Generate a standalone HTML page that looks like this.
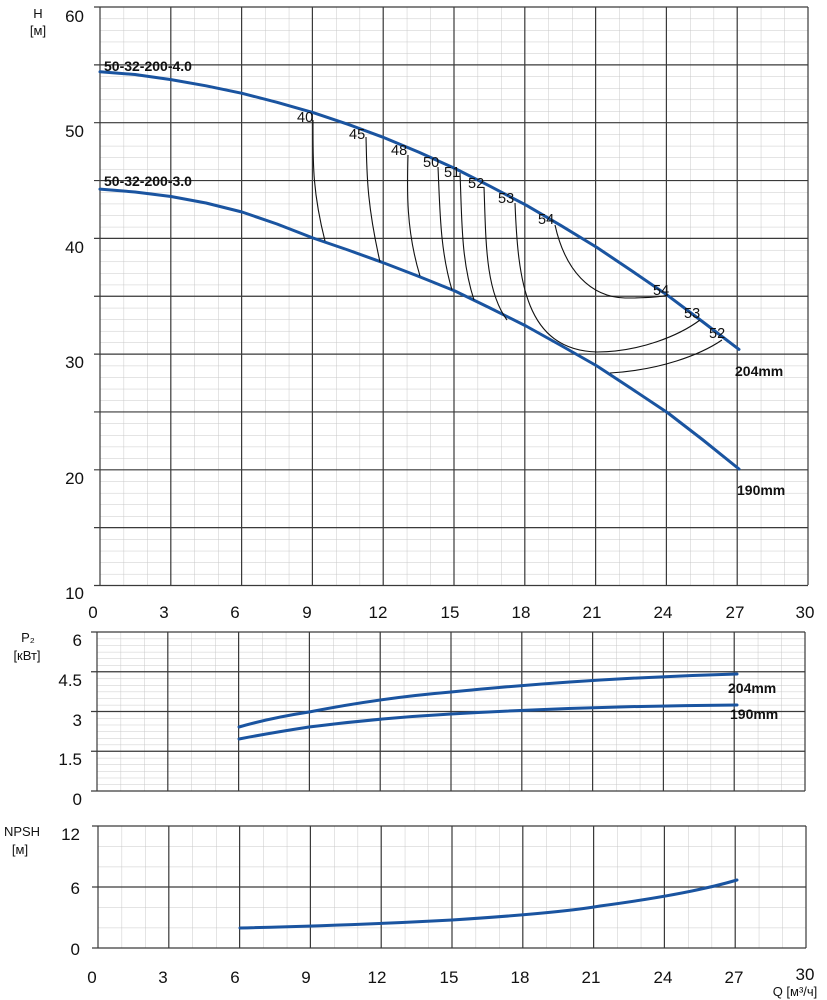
<!DOCTYPE html>
<html><head><meta charset="utf-8"><style>
html,body{margin:0;padding:0;background:#fff;}
svg{display:block;font-family:"Liberation Sans",sans-serif;}
</style></head><body>
<svg width="827" height="1000" viewBox="0 0 827 1000" xmlns="http://www.w3.org/2000/svg">
<defs>
<pattern id="pm" x="100" y="7" width="23.6" height="11.57" patternUnits="userSpaceOnUse"><path d="M0 0V11.57M0 0H23.6" stroke="#c8c8c8" stroke-width="1" fill="none"/></pattern>
<pattern id="pp" x="97" y="632" width="23.6" height="6.625" patternUnits="userSpaceOnUse"><path d="M0 0V6.625M0 0H23.6" stroke="#c8c8c8" stroke-width="1" fill="none"/></pattern>
<pattern id="pn" x="98" y="826" width="23.6" height="20.33" patternUnits="userSpaceOnUse"><path d="M0 0V20.33M0 0H23.6" stroke="#c8c8c8" stroke-width="1" fill="none"/></pattern>
</defs>
<rect x="100" y="7" width="708" height="578" fill="url(#pm)"/>
<rect x="97" y="632" width="708" height="159" fill="url(#pp)"/>
<rect x="98" y="826" width="708" height="122" fill="url(#pn)"/>
<g stroke="#3a3a3a" stroke-width="1.2" fill="none">
<path d="M100 7V585M170.8 7V585M241.6 7V585M312.4 7V585M383.2 7V585M454 7V585M524.8 7V585M595.6 7V585M666.4 7V585M737.2 7V585M808 7V585"/>
<path d="M94 7H808M94 64.85H808M94 122.7H808M94 180.55H808M94 238.4H808M94 296.25H808M94 354.1H808M94 411.95H808M94 469.8H808M94 527.65H808M94 585.5H808"/>
<path d="M97 632V791M167.8 632V791M238.6 632V791M309.4 632V791M380.2 632V791M451 632V791M521.8 632V791M592.6 632V791M663.4 632V791M734.2 632V791M805 632V791"/>
<path d="M91 632H805M91 671.75H805M91 711.5H805M91 751.25H805M91 791H805"/>
<path d="M98 826V948M168.8 826V948M239.6 826V948M310.4 826V948M381.2 826V948M452 826V948M522.8 826V948M593.6 826V948M664.4 826V948M735.2 826V948M806 826V948"/>
<path d="M92 826H806M92 887H806M92 948H806"/>
</g>
<g fill="none" stroke="#1a54a0" stroke-width="3" stroke-linejoin="round" stroke-linecap="round">
<path d="M100 71.8L135 74.5L171 79.6L206 85.8L242 93.3L277 102.3L313 112.6L348 124.3L384 137.6L419 152.3L455 168.5L490 186.2L526 205.1L561 225.6L597 247.5L632 271L668 295.7L703 322L739 349.4"/>
<path d="M100 189.1L135 192L171 196.5L206 203L242 212L277 224L313 238L348 250L384 263L419 276.5L455 291L490 308L526 326L561 345.5L597 366L632 389L668 413L703 440L739 469"/>
<path d="M239 727Q270 718 309 712Q380 698 451 692Q592 678 737 674"/>
<path d="M239 739Q270 733 309 727Q380 718 451 714Q592 706 737 705"/>
<path d="M240 928Q360 925 452 920Q560 913 600 906Q690 894 737 880"/>
</g>
<g fill="none" stroke="#111" stroke-width="1.1">
<path d="M313 120C313 160 312 190 325 241"/>
<path d="M366 137C367 170 366 200 380 262"/>
<path d="M408 155C407 190 406 230 420 276"/>
<path d="M438 167C440 210 440 250 452 290"/>
<path d="M460 173C462 220 461 260 474 300"/>
<path d="M484 187C486 240 485 290 507 320"/>
<path d="M515 203C518 280 525 350 597 352C640 352 680 335 700 320"/>
<path d="M555 225C565 270 590 297 625 298C645 298 660 297 668 295"/>
<path d="M610 373C660 370 700 355 722 340"/>
</g>
<g font-size="14.5" fill="#111">
<text x="297" y="122">40</text><text x="349" y="139">45</text><text x="391" y="155">48</text><text x="423" y="167">50</text><text x="444" y="177">51</text><text x="468" y="188">52</text><text x="498" y="203">53</text><text x="538" y="224">54</text>
<text x="653" y="295">54</text><text x="684" y="318">53</text><text x="709" y="338">52</text>
</g>
<g font-size="14" font-weight="bold" fill="#111">
<text x="104" y="71">50-32-200-4.0</text><text x="104" y="186">50-32-200-3.0</text>
<text x="735" y="376">204mm</text><text x="737" y="495">190mm</text>
<text x="728" y="693">204mm</text><text x="730" y="719">190mm</text>
</g>
<g font-size="17" fill="#111" text-anchor="end">
<text x="84" y="22">60</text><text x="84" y="137">50</text><text x="84" y="253">40</text><text x="84" y="368">30</text><text x="84" y="484">20</text><text x="84" y="599">10</text>
<text x="82" y="646">6</text><text x="82" y="686">4.5</text><text x="82" y="726">3</text><text x="82" y="765">1.5</text><text x="82" y="805">0</text>
<text x="80" y="840">12</text><text x="80" y="894">6</text><text x="80" y="955">0</text>
</g>
<g font-size="17" fill="#111" text-anchor="middle">
<text x="93" y="618">0</text><text x="164" y="618">3</text><text x="235" y="618">6</text><text x="307" y="618">9</text><text x="378" y="618">12</text><text x="450" y="618">15</text><text x="521" y="618">18</text><text x="592" y="618">21</text><text x="663" y="618">24</text><text x="735" y="618">27</text><text x="805" y="618">30</text>
<text x="92" y="983">0</text><text x="163" y="983">3</text><text x="235" y="983">6</text><text x="306" y="983">9</text><text x="377" y="983">12</text><text x="449" y="983">15</text><text x="520" y="983">18</text><text x="591" y="983">21</text><text x="663" y="983">24</text><text x="734" y="983">27</text><text x="805" y="980">30</text>
</g>
<g font-size="13" fill="#111" text-anchor="middle">
<text x="38" y="18">H</text><text x="38" y="35">[м]</text>
<text x="28" y="642">P₂</text><text x="27" y="660">[кВт]</text>
<text x="22" y="836">NPSH</text><text x="20" y="854">[м]</text>
<text x="795" y="996">Q [м³/ч]</text>
</g>
</svg>
</body></html>
